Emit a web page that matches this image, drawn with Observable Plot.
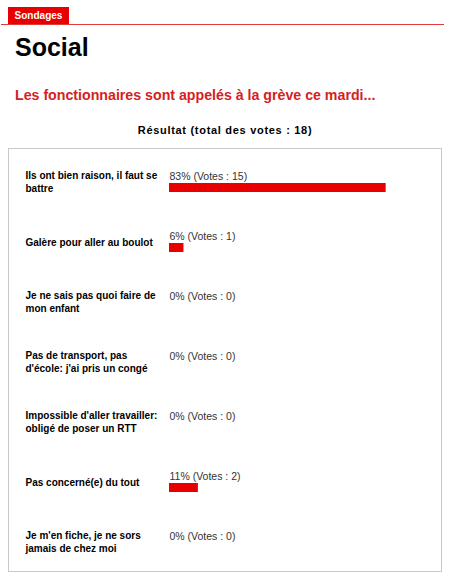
<!DOCTYPE html>
<html>
<head>
<meta charset="utf-8">
<script src="https://cdn.jsdelivr.net/npm/d3@7"></script>
<script src="https://cdn.jsdelivr.net/npm/@observablehq/plot@0.6"></script>
<style>
  html, body { margin: 0; padding: 0; background: #fff; }
  body { width: 450px; height: 584px; position: relative; overflow: hidden; font-family: "Liberation Sans", Arial, sans-serif; }
  .abs { position: absolute; white-space: nowrap; }
  #tab { left: 8px; top: 7px; width: 61px; height: 17px; background: #e80000; color: #fff; font-weight: bold; font-size: 10px; line-height: 18px; text-align: center; }
  #rule { left: 1px; top: 24px; width: 443px; height: 1px; background: #e03a3a; }
  #title { left: 15px; top: 35px; font-weight: bold; font-size: 25px; line-height: 25px; color: #000; }
  #subtitle { left: 15px; top: 88px; font-weight: bold; font-size: 14.2px; line-height: 14px; color: #d42222; }
  #result { left: 0; width: 450px; text-align: center; top: 125px; font-weight: bold; font-size: 11px; line-height: 11px; letter-spacing: 0.7px; color: #000; }
  #chart { left: 8px; top: 148px; }
  #chart svg { border: 1px solid #c8c8c8; display: block; background: #fff; }
</style>
</head>
<body>
<div class="abs" id="tab">Sondages</div>
<div class="abs" id="rule"></div>
<div class="abs" id="title">Social</div>
<div class="abs" id="subtitle">Les fonctionnaires sont appelés à la grève ce mardi...</div>
<div class="abs" id="result">Résultat (total des votes : 18)</div>
<div class="abs" id="chart"></div>
<script>
const options = [
  "Ils ont bien raison, il faut se\nbattre",
  "Galère pour aller au boulot",
  "Je ne sais pas quoi faire de\nmon enfant",
  "Pas de transport, pas\nd'école: j'ai pris un congé",
  "Impossible d'aller travailler:\nobligé de poser un RTT",
  "Pas concerné(e) du tout",
  "Je m'en fiche, je ne sors\njamais de chez moi"
];
const votes = [15, 1, 0, 0, 0, 2, 0];
const percents = [83, 6, 0, 0, 0, 11, 0];
const totalVotes = 18;

const rows = options.map((label, i) => ({
  label,
  votes: votes[i],
  text: `${percents[i]}% (Votes : ${votes[i]})`
}));

const chart = Plot.plot({
  width: 432,
  height: 422,
  marginLeft: 160,
  marginRight: 12,
  marginTop: 1,
  marginBottom: 0,
  style: { fontFamily: "'Liberation Sans', Arial, sans-serif", background: "#fff", overflow: "visible" },
  x: { domain: [0, totalVotes], axis: null },
  y: { domain: options, axis: null, padding: 0 },
  marks: [
    Plot.barX(rows, {
      x: "votes", y: "label", fill: "#e80000",
      insetTop: 32, insetBottom: 19
    }),
    Plot.text(rows, {
      x: () => 0, y: "label", text: "text",
      textAnchor: "start", lineAnchor: "middle", dy: -5,
      fontSize: 10.5, fill: "#333"
    }),
    Plot.text(rows, {
      x: () => 0, y: "label", text: "label",
      textAnchor: "start", lineAnchor: "middle", dx: -144,
      lineHeight: 1.3, fontSize: 10, fontWeight: "bold", fill: "#000"
    })
  ]
});
document.getElementById("chart").appendChild(chart);
</script>
</body>
</html>
